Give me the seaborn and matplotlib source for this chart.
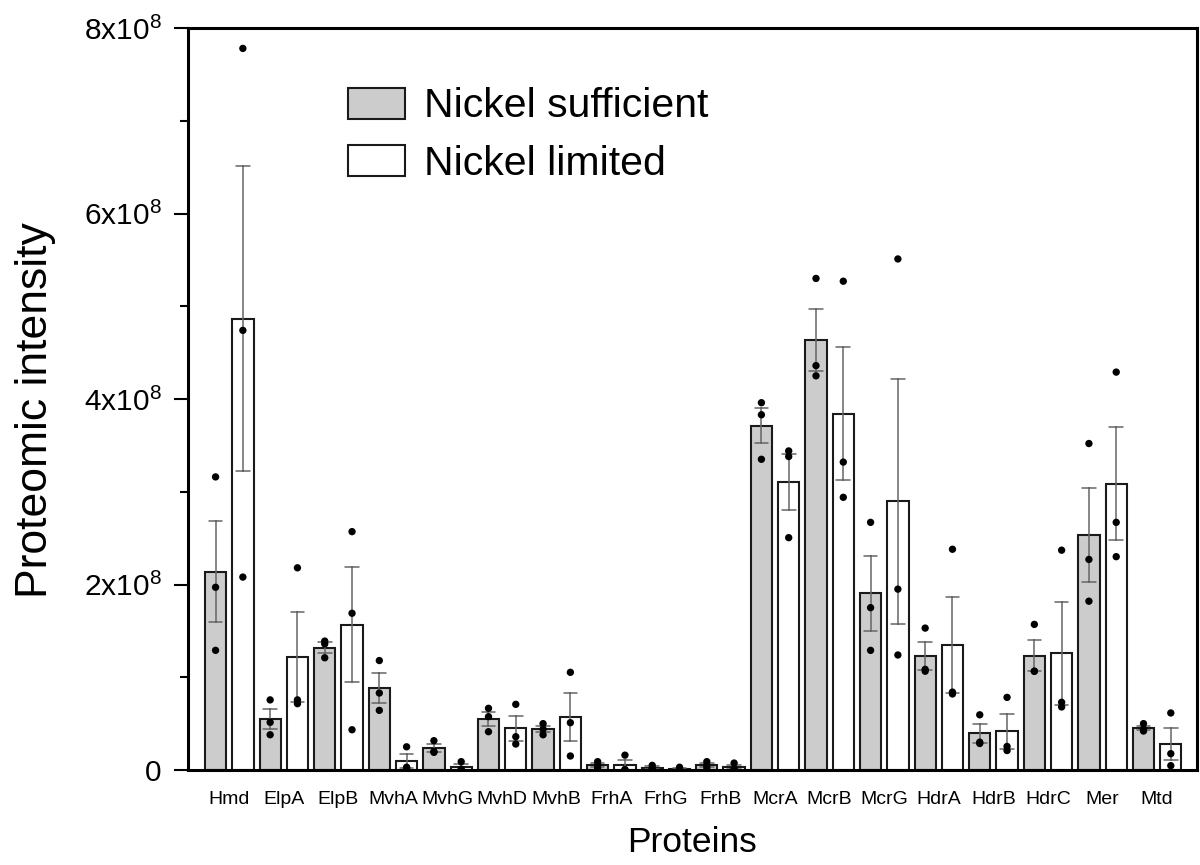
import numpy as np
import pandas as pd
import matplotlib
matplotlib.use("Agg")
import matplotlib.pyplot as plt
from matplotlib.ticker import MultipleLocator
import seaborn as sns

# replicate intensities, in units of 1e8
proteins = ['Hmd', 'ElpA', 'ElpB', 'MvhA', 'MvhG', 'MvhD', 'MvhB', 'FrhA', 'FrhG',
            'FrhB', 'McrA', 'McrB', 'McrG', 'HdrA', 'HdrB', 'HdrC', 'Mer', 'Mtd']

suff_r1 = [3.16, 0.756, 1.39, 1.18, 0.316, 0.665, 0.50, 0.09, 0.05,
           0.09, 3.96, 5.30, 2.67, 1.53, 0.595, 1.57, 3.52, 0.50]
suff_r2 = [1.97, 0.514, 1.36, 0.83, 0.20, 0.575, 0.44, 0.05, 0.02,
           0.05, 3.83, 4.36, 1.75, 1.085, 0.30, 1.065, 2.27, 0.44]
suff_r3 = [1.29, 0.38, 1.21, 0.643, 0.19, 0.413, 0.38, 0.02, 0.01,
           0.025, 3.35, 4.25, 1.29, 1.065, 0.286, 1.065, 1.82, 0.42]

lim_r1 = [7.78, 2.18, 2.57, 0.25, 0.09, 0.708, 1.053, 0.16, 0.03,
          0.075, 3.44, 5.27, 5.51, 2.38, 0.783, 2.37, 4.29, 0.615]
lim_r2 = [4.74, 0.756, 1.69, 0.03, 0.01, 0.359, 0.51, 0.005, 0.005,
          0.01, 3.38, 3.32, 1.95, 0.84, 0.254, 0.73, 2.67, 0.176]
lim_r3 = [2.08, 0.715, 0.434, 0.02, 0.0, 0.28, 0.151, 0.003, 0.002,
          0.005, 2.505, 2.94, 1.24, 0.82, 0.21, 0.68, 2.30, 0.047]

conditions = ['Nickel sufficient', 'Nickel limited']
y_ticks = [0, 2e8, 4e8, 6e8, 8e8]
y_tick_labels = ['0', r'$\mathregular{2x10^8}$', r'$\mathregular{4x10^8}$',
                 r'$\mathregular{6x10^8}$', r'$\mathregular{8x10^8}$']

rows = []
for cond, reps in [(conditions[0], [suff_r1, suff_r2, suff_r3]),
                   (conditions[1], [lim_r1, lim_r2, lim_r3])]:
    for rep in reps:
        for p, v in zip(proteins, rep):
            rows.append({'Protein': p, 'Condition': cond, 'Intensity': v * 1e8})
df = pd.DataFrame(rows)

sns.set_style('ticks')
plt.rcParams['font.family'] = ['Liberation Sans', 'DejaVu Sans']
for key in ['text.color', 'axes.labelcolor', 'xtick.color', 'ytick.color', 'axes.edgecolor']:
    plt.rcParams[key] = 'black'

fig = plt.figure(figsize=(12, 8.65), dpi=100)
ax = fig.add_axes([188 / 1200, 95 / 865, 1009 / 1200, 742 / 865])

sns.barplot(data=df, x='Protein', y='Intensity', hue='Condition',
            order=proteins, hue_order=conditions,
            palette={'Nickel sufficient': '#cccccc', 'Nickel limited': 'white'},
            errorbar='se', capsize=0.5, width=1.0, gap=0.22, saturation=1,
            edgecolor='#1a1a1a', linewidth=1.5,
            err_kws={'color': '#666666', 'linewidth': 1.1}, ax=ax)

# individual replicates sit on the centre of their bar
offsets = {'Nickel sufficient': -0.25, 'Nickel limited': 0.25}
df['xpos'] = df['Protein'].map({p: i for i, p in enumerate(proteins)}) + df['Condition'].map(offsets)
sns.scatterplot(data=df, x='xpos', y='Intensity', color='black', s=28,
                edgecolor='none', legend=False, zorder=5, ax=ax)

ax.set_xlim(-0.755, 17.73)
ax.set_ylim(0, 8e8)
ax.set_xticks(range(len(proteins)))
ax.set_xticklabels(proteins)
ax.set_yticks(y_ticks)
ax.set_yticklabels(y_tick_labels)
ax.yaxis.set_minor_locator(MultipleLocator(1e8))
ax.tick_params(axis='y', which='major', length=10, width=1.5, labelsize=21.5, pad=9)
ax.tick_params(axis='y', which='minor', length=5.5, width=1.5)
ax.tick_params(axis='x', length=0, labelsize=14, pad=15)
for s in ax.spines.values():
    s.set_linewidth(2.2)
    s.set_color('black')

ax.set_xlabel('Proteins', fontsize=25.5, labelpad=13)
ax.set_ylabel('Proteomic intensity', fontsize=32, labelpad=20, y=0.485)

handles, labels = ax.get_legend_handles_labels()
ax.legend(handles, labels, frameon=False, loc='upper left', bbox_to_anchor=(0.159, 0.92),
          fontsize=29.5, handlelength=1.39, handleheight=0.78, handletextpad=0.45,
          labelspacing=0.48, borderpad=0, borderaxespad=0)

fig.savefig('out.png', dpi=100)
